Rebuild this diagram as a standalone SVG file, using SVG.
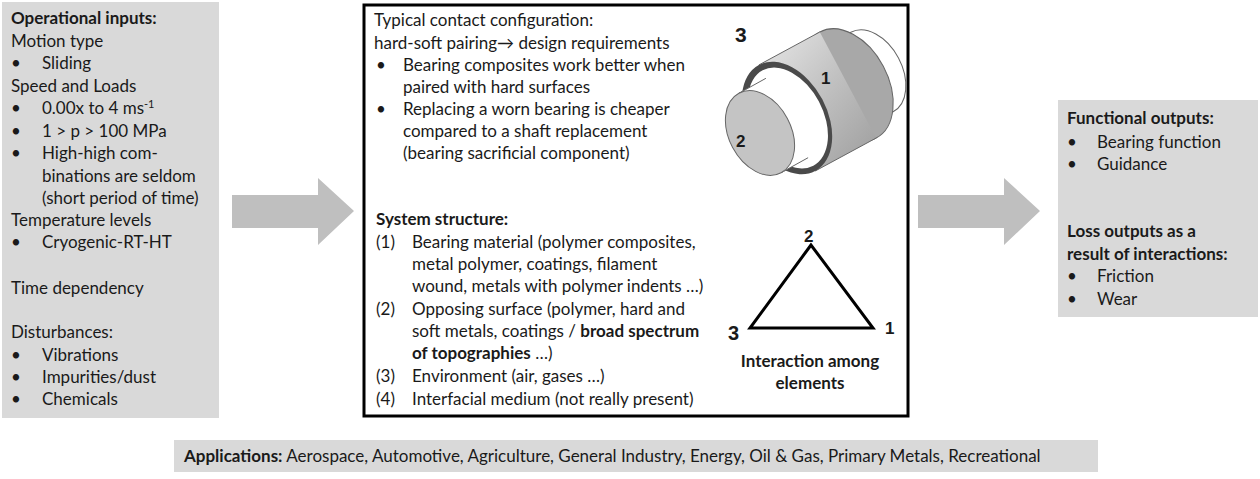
<svg xmlns="http://www.w3.org/2000/svg" width="1260" height="479" viewBox="0 0 1260 479">
<style>
text{font-family:Lato,"Liberation Sans",sans-serif;font-size:17px;fill:#1a1a1a}
.b{font-weight:bold}
.g{fill:#d9d9d9}
.ar{fill:#bfbfbf}
.n{font-family:"Liberation Sans",sans-serif;font-weight:bold;font-size:17px}
.e{stroke:#666;stroke-width:1}
</style>
<defs>
<linearGradient id="bg" x1="0" y1="0" x2="1" y2="1">
<stop offset="0" stop-color="#e8e8e8"/><stop offset="0.5" stop-color="#c0c0c0"/><stop offset="1" stop-color="#9c9c9c"/>
</linearGradient>
</defs>
<rect width="1260" height="479" fill="#fff"/>
<g id="inputs">
<rect class="g" x="2" y="2" width="217" height="416"/>
<text x="11" y="24" class="b">Operational inputs:</text>
<text x="11" y="47">Motion type</text>
<text x="11" y="69">•</text><text x="42" y="69">Sliding</text>
<text x="11" y="92">Speed and Loads</text>
<text x="11" y="114">•</text><text x="42" y="114">0.00x to 4 ms<tspan dy="-6" font-size="11">-1</tspan></text>
<text x="11" y="137">•</text><text x="42" y="137">1 &gt; p &gt;  100 MPa</text>
<text x="11" y="159">•</text><text x="42" y="159">High-high com-</text>
<text x="42" y="182">binations are seldom</text>
<text x="42" y="204">(short period of time)</text>
<text x="11" y="226">Temperature levels</text>
<text x="11" y="248">•</text><text x="42" y="248">Cryogenic-RT-HT</text>
<text x="11" y="294">Time dependency</text>
<text x="11" y="338">Disturbances:</text>
<text x="11" y="361">•</text><text x="42" y="361">Vibrations</text>
<text x="11" y="383">•</text><text x="42" y="383">Impurities/dust</text>
<text x="11" y="405">•</text><text x="42" y="405">Chemicals</text>
</g>
<g id="connectors">
<polygon class="ar" points="232,195 318,195 318,178 354,211 318,245 318,228 232,228"/>
<polygon class="ar" points="918,195 1004,195 1004,178 1040,211 1004,245 1004,228 918,228"/>
</g>
<g id="system">
<rect x="364" y="5" width="544" height="411" fill="#fff" stroke="#000" stroke-width="3"/>
<text x="374" y="26">Typical contact configuration:</text>
<text x="374" y="49">hard-soft  pairing→ design requirements</text>
<text x="376" y="71">•</text><text x="403" y="71">Bearing composites work better when</text>
<text x="403" y="93">paired with hard surfaces</text>
<text x="376" y="115">•</text><text x="403" y="115">Replacing a worn bearing is cheaper</text>
<text x="403" y="137">compared to a shaft replacement</text>
<text x="403" y="159">(bearing sacrificial component)</text>
<text x="376" y="225" class="b">System structure:</text>
<text x="376" y="248">(1)</text><text x="412" y="248">Bearing material (polymer composites,</text>
<text x="412" y="270">metal polymer, coatings, filament</text>
<text x="412" y="292">wound, metals with polymer indents …)</text>
<text x="376" y="315">(2)</text><text x="412" y="315">Opposing surface (polymer, hard and</text>
<text x="412" y="337">soft metals, coatings / <tspan class="b">broad spectrum</tspan></text>
<text x="412" y="359" class="b">of topographies<tspan font-weight="normal"> …)</tspan></text>
<text x="376" y="382">(3)</text><text x="412" y="382">Environment (air, gases …)</text>
<text x="376" y="405">(4)</text><text x="412" y="405">Interfacial medium (not really present)</text>
</g>
<g id="bearing">
<ellipse class="e" cx="872" cy="72" rx="30" ry="45" transform="rotate(-28 872 72)" fill="#fff"/>
<polygon points="781.1,172.7 738.9,93.3 850.9,32.3 893.1,111.7" fill="#fff"/>
<line class="e" x1="738.9" y1="93.3" x2="850.9" y2="32.3"/>
<line class="e" x1="781.1" y1="172.7" x2="893.1" y2="111.7"/>
<ellipse class="e" cx="848" cy="85" rx="40" ry="60" transform="rotate(-28 848 85)" fill="#a8a8a8"/>
<polygon points="815.2,171 758.8,65 819.8,32 876.2,138" fill="url(#bg)"/>
<line class="e" x1="758.8" y1="65" x2="819.8" y2="32"/>
<line class="e" x1="815.2" y1="171" x2="876.2" y2="138"/>
<ellipse cx="787" cy="118" rx="40" ry="60" transform="rotate(-28 787 118)" fill="#4a4a4a"/>
<ellipse cx="788" cy="118" rx="35" ry="54" transform="rotate(-28 788 118)" fill="#fff"/>
<polygon points="781.1,172.7 738.9,93.3 765.9,78.3 808.1,157.7" fill="#fff"/>
<line class="e" x1="738.9" y1="93.3" x2="765.9" y2="78.3"/>
<line class="e" x1="781.1" y1="172.7" x2="808.1" y2="157.7"/>
<ellipse class="e" cx="760" cy="133" rx="31" ry="45" transform="rotate(-28 760 133)" fill="#c4c4c4"/>
<text x="735" y="42" class="n" style="font-size:21px">3</text>
<text x="821" y="84" class="n">1</text>
<text x="736" y="147" class="n">2</text>
</g>
<g id="triangle">
<polygon points="811,245 750,328 873,328" fill="none" stroke="#000" stroke-width="3"/>
<text x="804" y="242" class="n">2</text>
<text x="728" y="340" class="n" style="font-size:20px">3</text>
<text x="885" y="334" class="n">1</text>
<text x="810" y="367" class="b" text-anchor="middle">Interaction among</text>
<text x="810" y="389" class="b" text-anchor="middle">elements</text>
</g>
<g id="outputs">
<rect class="g" x="1058" y="100" width="200" height="217"/>
<text x="1067" y="124" class="b">Functional outputs:</text>
<text x="1067" y="148">•</text><text x="1097" y="148">Bearing function</text>
<text x="1067" y="170">•</text><text x="1097" y="170">Guidance</text>
<text x="1067" y="237" class="b">Loss outputs as a</text>
<text x="1067" y="260" class="b">result of interactions:</text>
<text x="1067" y="282">•</text><text x="1097" y="282">Friction</text>
<text x="1067" y="305">•</text><text x="1097" y="305">Wear</text>
</g>
<g id="applications">
<rect class="g" x="174" y="440" width="924" height="32"/>
<text x="184" y="462"><tspan class="b">Applications:</tspan> Aerospace, Automotive, Agriculture, General Industry, Energy, Oil &amp; Gas, Primary Metals, Recreational</text>
</g>
</svg>
